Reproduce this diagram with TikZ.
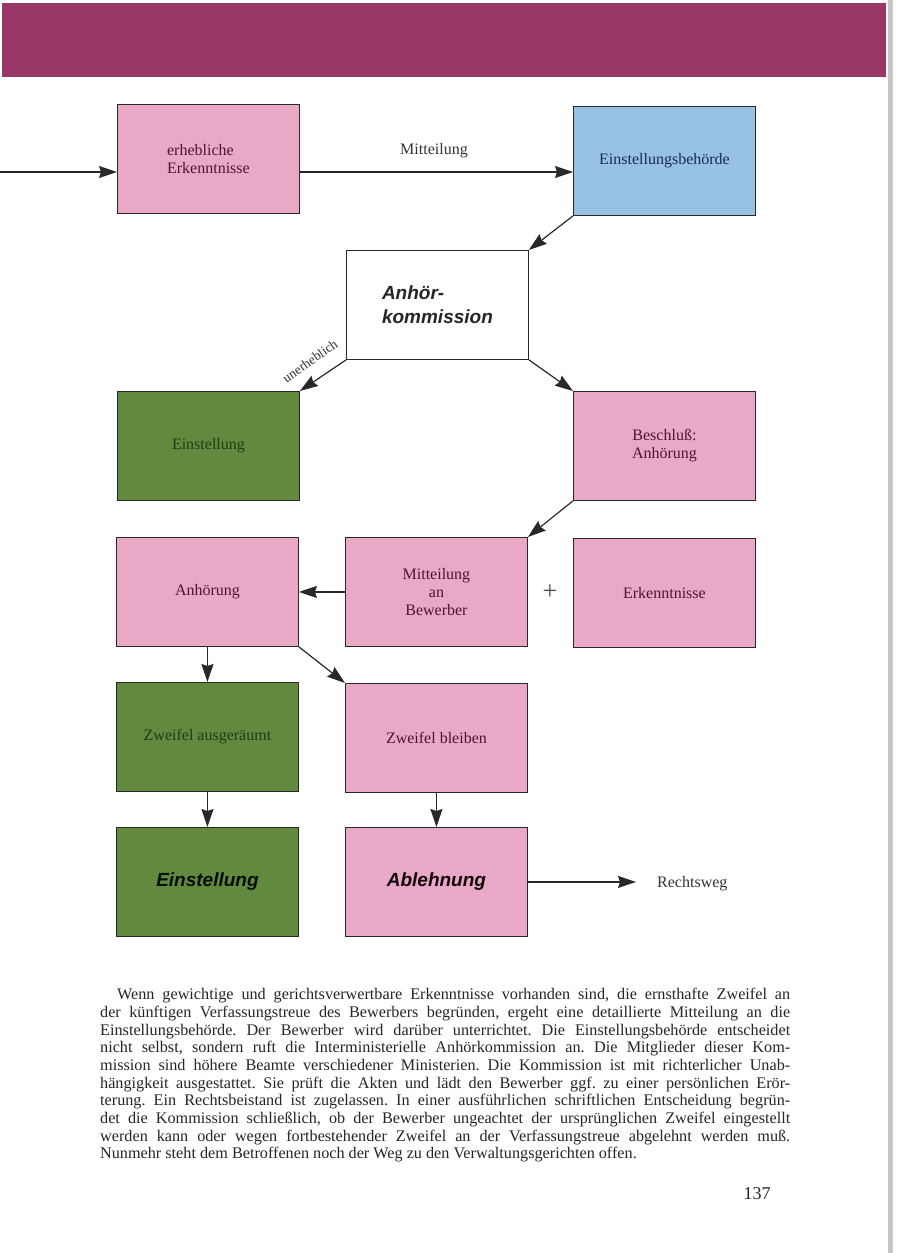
\documentclass[tikz,border=0pt]{standalone}
\usepackage{fontspec}
\setmainfont{Liberation Serif}
\newfontfamily\hsans{Liberation Sans}
\usetikzlibrary{arrows.meta}
\frenchspacing
\definecolor{pinkbox}{RGB}{232,168,198}
\definecolor{bluebox}{RGB}{152,194,228}
\definecolor{greenbox}{RGB}{98,138,62}
\definecolor{banner}{RGB}{152,54,102}
\definecolor{pinktext}{RGB}{80,20,48}
\definecolor{greentext}{RGB}{28,62,24}
\definecolor{bluetext}{RGB}{22,44,82}
\definecolor{linecol}{RGB}{40,40,40}
\tikzset{
  box/.style={draw=linecol, line width=0.9pt, minimum width=182pt, minimum height=109pt,
    inner sep=0pt, anchor=north west, align=center,
    font={\fontsize{16}{18}\selectfont}},
  pinkb/.style={box, fill=pinkbox, text=pinktext},
  greenb/.style={box, fill=greenbox, text=greentext},
  boldtxt/.style={font={\hsans\bfseries\itshape\fontsize{19}{24}\selectfont}},
  arr/.style={draw=linecol, line width=1.2pt, -{Stealth[length=18pt,width=12pt,inset=2pt]}},
  lbl/.style={inner sep=0pt, font={\fontsize{16}{18}\selectfont}, text=black!80}
}
\begin{document}
\begin{tikzpicture}[x=1pt,y=-1pt]
\useasboundingbox (0,0) rectangle (900,1253);
\fill[white] (0,0) rectangle (900,1253);
% banner and page edge
\fill[banner] (2,3) rectangle (886,77);
\fill[black!22] (888,0) rectangle (893,1253);

% boxes
\node[pinkb, align=left] (erh) at (117,104) {erhebliche\\Erkenntnisse};
\node[box, fill=bluebox, text=bluetext] (eb) at (573,106) {Einstellungsbehörde};
\node[box, fill=white, text=black!85, boldtxt, align=left] (ak) at (346,250) {Anhör-\\kommission};
\node[greenb] (e1) at (117,391) {Einstellung};
\node[pinkb] (bes) at (573,391) {Beschluß:\\Anhörung};
\node[pinkb] (anh) at (116,537) {Anhörung};
\node[pinkb] (mit) at (345,537) {Mitteilung\\an\\Bewerber};
\node[pinkb] (erk) at (573,538) {Erkenntnisse};
\node[greenb] (za) at (116,682) {Zweifel ausgeräumt};
\node[pinkb] (zb) at (345,683) {Zweifel bleiben};
\node[greenb, boldtxt, text=black!80!greentext] (e2) at (116,827) {Einstellung};
\node[pinkb, boldtxt, text=black!80!pinktext] (abl) at (345,827) {Ablehnung};

% labels
\node[lbl] (mtl) at (434,151) {Mitteilung};
\node[lbl, anchor=west, inner xsep=21pt] (rw) at (636,884) {Rechtsweg};
\node[inner sep=0pt, rotate=35, font={\fontsize{13.5}{15}\selectfont}, text=black!80] (uh) at (310,361) {unerheblich};
\node[inner sep=0pt, font={\fontsize{26}{26}\selectfont}, text=black!70] (plus) at (550,592) {+};

% connectors
\coordinate (in) at (0,172);
\draw[arr] (in) -- (in -| erh.west);
\draw[arr] (erh.east |- in) -- (eb.west |- in);
\draw[arr] (eb.south west) -- (ak.north east);
\draw[arr] (ak.south west) -- (e1.north east);
\draw[arr] (ak.south east) -- (bes.north west);
\draw[arr] (bes.south west) -- (mit.north east);
\draw[arr] (mit.west) -- (anh.east);
\draw[arr] (anh.south) -- (za.north);
\draw[arr] (anh.south east) -- (zb.north west);
\draw[arr] (za.south) -- (e2.north);
\draw[arr] (zb.south) -- (abl.north);
\draw[arr] (abl.east) -- (abl.east -| rw.west);

% paragraph
\node[anchor=north west, inner sep=0pt, align=left, text=black!85,
  font={\fontsize{16.2}{17.7}\selectfont}] (para) at (100,988) {%
\makebox[690pt][s]{\hspace*{17pt}Wenn gewichtige und gerichtsverwertbare Erkenntnisse vorhanden sind, die ernsthafte Zweifel an}\\
\makebox[690pt][s]{der künftigen Verfassungstreue des Bewerbers begründen, ergeht eine detaillierte Mitteilung an die}\\
\makebox[690pt][s]{Einstellungsbehörde. Der Bewerber wird darüber unterrichtet. Die Einstellungsbehörde entscheidet}\\
\makebox[690pt][s]{nicht selbst, sondern ruft die Interministerielle Anhörkommission an. Die Mitglieder dieser Kom-}\\
\makebox[690pt][s]{mission sind höhere Beamte verschiedener Ministerien. Die Kommission ist mit richterlicher Unab-}\\
\makebox[690pt][s]{hängigkeit ausgestattet. Sie prüft die Akten und lädt den Bewerber ggf. zu einer persönlichen Erör-}\\
\makebox[690pt][s]{terung. Ein Rechtsbeistand ist zugelassen. In einer ausführlichen schriftlichen Entscheidung begrün-}\\
\makebox[690pt][s]{det die Kommission schließlich, ob der Bewerber ungeachtet der ursprünglichen Zweifel eingestellt}\\
\makebox[690pt][s]{werden kann oder wegen fortbestehender Zweifel an der Verfassungstreue abgelehnt werden muß.}\\
Nunmehr steht dem Betroffenen noch der Weg zu den Verwaltungsgerichten offen.};

% page number
\node[inner sep=0pt, font={\fontsize{18}{20}\selectfont}, text=black!85] (pg) at (757,1194) {137};
\end{tikzpicture}
\end{document}
